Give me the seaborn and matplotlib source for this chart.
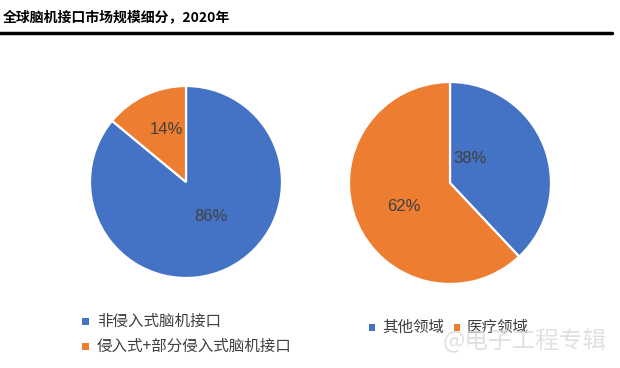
import matplotlib
matplotlib.use("Agg")
import matplotlib.pyplot as plt
import seaborn as sns
from matplotlib.lines import Line2D
from matplotlib.patches import Rectangle

sns.set_theme(style="white")
plt.rcParams['font.family'] = ['Noto Sans CJK SC', 'DejaVu Sans']

title = "全球脑机接口市场规模细分，2020年"
left_labels = ["非侵入式脑机接口", "侵入式+部分侵入式脑机接口"]
left_values = [86, 14]
right_labels = ["其他领域", "医疗领域"]
right_values = [38, 62]
colors = ["#4472C4", "#ED7D31"]
text_color = "#404040"
pct_font = ["Liberation Sans", "DejaVu Sans"]

fig = plt.figure(figsize=(6.2, 3.68), dpi=100)
W, H = 620, 368

def add_ax(cx, cy, r):
    return fig.add_axes([(cx - r) / W, (H - cy - r) / H, 2 * r / W, 2 * r / H])

# Left pie
axL = add_ax(186, 182, 96)
axL.pie(left_values, colors=colors, startangle=90, counterclock=False,
        wedgeprops=dict(edgecolor="white", linewidth=1.6), radius=1)
axL.set_xlim(-1, 1); axL.set_ylim(-1, 1); axL.axis("off")
axL.text(-0.20, 0.545, f"{left_values[1]}%", ha="center", va="center", fontsize=12,
         color=text_color, family=pct_font)
axL.text(0.26, -0.36, f"{left_values[0]}%", ha="center", va="center", fontsize=12,
         color=text_color, family=pct_font)

# Right pie
axR = add_ax(450, 183, 101)
axR.pie(right_values, colors=colors, startangle=90, counterclock=False,
        wedgeprops=dict(edgecolor="white", linewidth=1.6), radius=1)
axR.set_xlim(-1, 1); axR.set_ylim(-1, 1); axR.axis("off")
axR.text(0.2, 0.245, f"{right_values[0]}%", ha="center", va="center", fontsize=12,
         color=text_color, family=pct_font)
axR.text(-0.455, -0.235, f"{right_values[1]}%", ha="center", va="center", fontsize=12,
         color=text_color, family=pct_font)

# Title and rule
fig.text(3 / W, 1 - 17 / H, title, fontsize=10, fontweight="bold", color="black", ha="left", va="center")
fig.add_artist(Line2D([0, 612 / W], [1 - 33 / H, 1 - 33 / H], color="black", linewidth=2.5,
                      transform=fig.transFigure))

# Legends
def sq(x, y, c):
    fig.add_artist(Rectangle(((x - 3.5) / W, 1 - (y + 3.5) / H), 7 / W, 7 / H,
                             transform=fig.transFigure, color=c, lw=0))

sq(85, 321, colors[0]); fig.text(97 / W, 1 - 321 / H, left_labels[0], fontsize=11.2, color=text_color, va="center")
sq(85, 346, colors[1]); fig.text(97 / W, 1 - 346 / H, left_labels[1], fontsize=11.2, color=text_color, va="center")
sq(372, 327, colors[0]); fig.text(382 / W, 1 - 327 / H, right_labels[0], fontsize=11.2, color=text_color, va="center")
sq(457, 327, colors[1]); fig.text(467 / W, 1 - 327 / H, right_labels[1], fontsize=11.2, color=text_color, va="center")

# Watermark
fig.text(443 / W, 1 - 341 / H, "@电子工程专辑", fontsize=17, color="#d9d9d9", alpha=0.8, va="center")

fig.savefig("out.png", dpi=100)
